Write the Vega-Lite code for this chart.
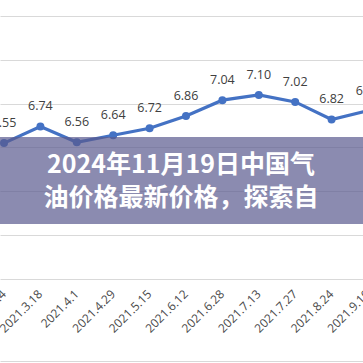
{
  "$schema": "https://vega.github.io/schema/vega-lite/v6.json",
  "width": 363,
  "height": 279,
  "autosize": {"type": "none"},
  "padding": {"left": 0, "top": 0, "right": 0, "bottom": 84},
  "background": "white",
  "config": {"view": {"stroke": null}},
  "datasets": {
    "prices": [
      {"idx": 1, "date": "2021.3.4", "price": 6.55},
      {"idx": 2, "date": "2021.3.18", "price": 6.74},
      {"idx": 3, "date": "2021.4.1", "price": 6.56},
      {"idx": 4, "date": "2021.4.29", "price": 6.64},
      {"idx": 5, "date": "2021.5.15", "price": 6.72},
      {"idx": 6, "date": "2021.6.12", "price": 6.86},
      {"idx": 7, "date": "2021.6.28", "price": 7.04},
      {"idx": 8, "date": "2021.7.13", "price": 7.10},
      {"idx": 9, "date": "2021.7.27", "price": 7.02},
      {"idx": 10, "date": "2021.8.24", "price": 6.82},
      {"idx": 11, "date": "2021.9.10", "price": 6.92}
    ],
    "banner": [
      {"bx": 0.5, "bx2": 12, "by": 5.627, "by2": 6.62}
    ],
    "bannerText": [
      {"tx": 5.863, "ty": 6.3, "line": "2024年11月19日中国气"},
      {"tx": 5.863, "ty": 5.924, "line": "油价格最新价格，探索自"}
    ]
  },
  "layer": [
    {
      "data": {"name": "prices"},
      "mark": {"type": "line", "color": "#4472c4", "strokeWidth": 3.2},
      "encoding": {
        "x": {"field": "idx", "type": "quantitative",
              "scale": {"domain": [0.89, 10.863], "nice": false, "zero": false},
              "axis": {"orient": "bottom", "offset": 82, "labels": false, "ticks": false, "grid": false, "domainColor": "#d9d9d9", "title": null}},
        "y": {"field": "price", "type": "quantitative",
              "scale": {"domain": [5, 8.1825], "nice": false, "zero": false},
              "axis": {"values": [5, 5.5, 6, 6.5, 7, 7.5, 8], "labels": false, "ticks": false, "domain": false, "grid": true, "gridColor": "#d9d9d9", "gridWidth": 1, "title": null}}
      }
    },
    {
      "data": {"name": "prices"},
      "mark": {"type": "point", "filled": true, "opacity": 1, "color": "#4472c4", "size": 64},
      "encoding": {
        "x": {"field": "idx", "type": "quantitative", "scale": {"domain": [0.89, 10.863], "nice": false, "zero": false}},
        "y": {"field": "price", "type": "quantitative", "scale": {"domain": [5, 8.1825], "nice": false, "zero": false}}
      }
    },
    {
      "data": {"name": "prices"},
      "mark": {"type": "text", "font": "Open Sans", "fontSize": 12.5, "color": "#404040", "baseline": "middle", "dy": -20},
      "encoding": {
        "x": {"field": "idx", "type": "quantitative", "scale": {"domain": [0.89, 10.863], "nice": false, "zero": false}},
        "y": {"field": "price", "type": "quantitative", "scale": {"domain": [5, 8.1825], "nice": false, "zero": false}},
        "text": {"field": "price", "type": "quantitative", "format": ".2f"}
      }
    },
    {
      "data": {"name": "prices"},
      "mark": {"type": "text", "font": "Open Sans", "fontSize": 12, "color": "#4a4a4a", "angle": 315, "align": "right", "baseline": "middle"},
      "encoding": {
        "x": {"field": "idx", "type": "quantitative", "scale": {"domain": [0.89, 10.863], "nice": false, "zero": false}},
        "y": {"datum": 4.85, "type": "quantitative", "scale": {"domain": [5, 8.1825], "nice": false, "zero": false}},
        "text": {"field": "date", "type": "nominal"}
      }
    },
    {
      "data": {"name": "banner"},
      "mark": {"type": "rect", "color": "#5a5a8f", "opacity": 0.7},
      "encoding": {
        "x": {"field": "bx", "type": "quantitative", "scale": {"domain": [0.89, 10.863], "nice": false, "zero": false}},
        "x2": {"field": "bx2"},
        "y": {"field": "by", "type": "quantitative", "scale": {"domain": [5, 8.1825], "nice": false, "zero": false}},
        "y2": {"field": "by2"}
      }
    },
    {
      "data": {"name": "bannerText"},
      "mark": {"type": "text", "font": "Noto Sans CJK SC", "fontWeight": "bold", "fontSize": 25, "color": "white", "align": "center", "baseline": "middle"},
      "encoding": {
        "x": {"field": "tx", "type": "quantitative", "scale": {"domain": [0.89, 10.863], "nice": false, "zero": false}},
        "y": {"field": "ty", "type": "quantitative", "scale": {"domain": [5, 8.1825], "nice": false, "zero": false}},
        "text": {"field": "line", "type": "nominal"}
      }
    }
  ]
}
